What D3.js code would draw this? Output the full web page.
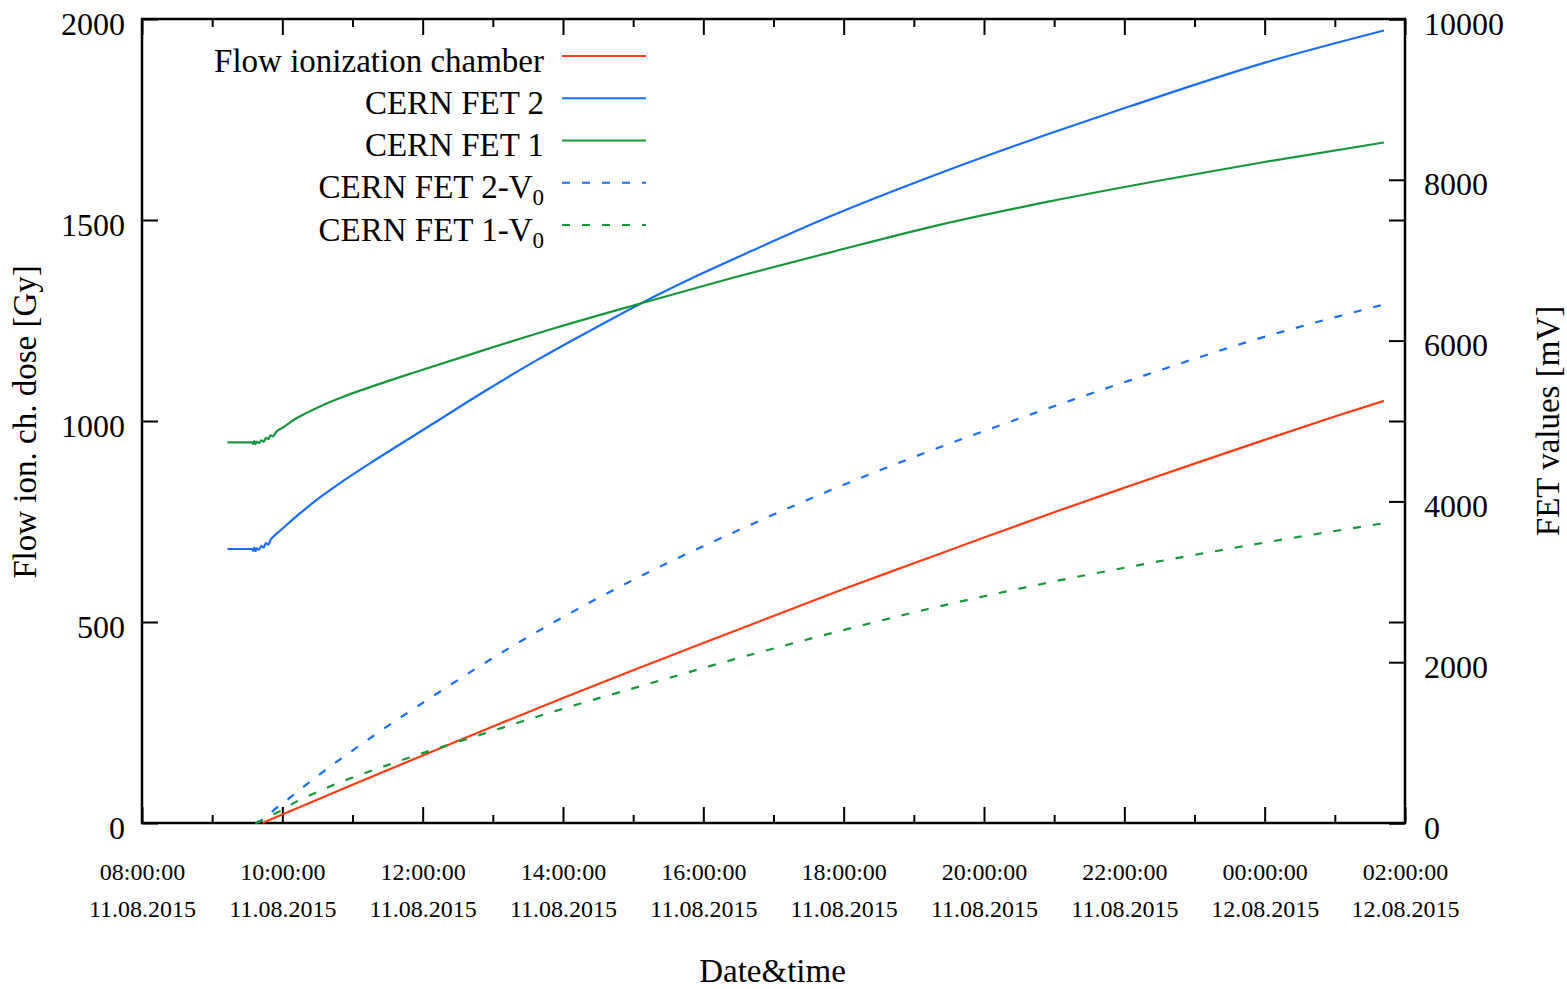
<!DOCTYPE html>
<html>
<head>
<meta charset="utf-8">
<script src="https://cdn.jsdelivr.net/npm/d3@7"></script>
<style>
  html, body { margin: 0; padding: 0; background: #fff; }
  svg { display: block; font-family: "Liberation Serif", "Times New Roman", serif; }
  svg text { font-family: "Liberation Serif", "Times New Roman", serif; }
</style>
</head>
<body>
<svg id="chart" width="1567" height="989"></svg>
<script>
// ---------------- data ----------------
const xDomain = ["11.08.2015 08:00", "12.08.2015 02:00"];
const leftTicks = [0, 500, 1000, 1500, 2000];          // Gy
const rightTicks = [0, 2000, 4000, 6000, 8000, 10000];  // mV

const seriesNames = ["Flow ionization chamber", "CERN FET 2", "CERN FET 1", "CERN FET 2-V", "CERN FET 1-V"];
const seriesSubs  = ["", "", "", "0", "0"];

// Flow ionization chamber dose [Gy] (left axis)
const flowChamber = [
  ["11.08.2015 09:43", 0], ["11.08.2015 10:00", 21], ["11.08.2015 11:00", 95],
  ["11.08.2015 12:00", 168], ["11.08.2015 13:00", 240], ["11.08.2015 14:00", 311],
  ["11.08.2015 15:00", 380], ["11.08.2015 16:00", 448], ["11.08.2015 17:00", 515],
  ["11.08.2015 18:00", 582], ["11.08.2015 19:00", 646], ["11.08.2015 20:00", 710],
  ["11.08.2015 21:00", 773], ["11.08.2015 22:00", 834], ["11.08.2015 23:00", 894],
  ["12.08.2015 00:00", 953], ["12.08.2015 01:00", 1011], ["12.08.2015 01:42", 1050]
];

// CERN FET 2 [mV] (right axis)
const fet2 = [
  ["11.08.2015 09:13", 3408], ["11.08.2015 09:34", 3408], ["11.08.2015 09:35", 3385],
  ["11.08.2015 09:36", 3425], ["11.08.2015 09:37", 3380], ["11.08.2015 09:38", 3415],
  ["11.08.2015 09:40", 3400], ["11.08.2015 09:42", 3445], ["11.08.2015 09:44", 3425],
  ["11.08.2015 09:46", 3480], ["11.08.2015 09:48", 3460], ["11.08.2015 09:50", 3525],
  ["11.08.2015 09:52", 3557], ["11.08.2015 10:00", 3660], ["11.08.2015 10:15", 3850],
  ["11.08.2015 10:35", 4080], ["11.08.2015 10:49", 4225], ["11.08.2015 11:21", 4530],
  ["11.08.2015 12:07", 4950], ["11.08.2015 12:53", 5370], ["11.08.2015 13:38", 5760],
  ["11.08.2015 14:24", 6130], ["11.08.2015 15:07", 6465], ["11.08.2015 15:56", 6815],
  ["11.08.2015 16:42", 7120], ["11.08.2015 17:46", 7530], ["11.08.2015 19:21", 8075],
  ["11.08.2015 20:55", 8570], ["11.08.2015 22:06", 8920], ["12.08.2015 00:01", 9460],
  ["12.08.2015 01:42", 9857]
];

// CERN FET 1 [mV] (right axis)
const fet1 = [
  ["11.08.2015 09:13", 4735], ["11.08.2015 09:34", 4735], ["11.08.2015 09:35", 4715],
  ["11.08.2015 09:36", 4750], ["11.08.2015 09:37", 4712], ["11.08.2015 09:38", 4745],
  ["11.08.2015 09:40", 4725], ["11.08.2015 09:42", 4760], ["11.08.2015 09:44", 4740],
  ["11.08.2015 09:46", 4790], ["11.08.2015 09:48", 4775], ["11.08.2015 09:50", 4820],
  ["11.08.2015 09:52", 4810], ["11.08.2015 09:55", 4870], ["11.08.2015 10:00", 4915],
  ["11.08.2015 10:10", 5015], ["11.08.2015 10:20", 5095], ["11.08.2015 10:35", 5200],
  ["11.08.2015 10:50", 5290], ["11.08.2015 11:24", 5465], ["11.08.2015 11:52", 5600],
  ["11.08.2015 12:53", 5885], ["11.08.2015 13:54", 6160], ["11.08.2015 15:07", 6465],
  ["11.08.2015 16:26", 6785], ["11.08.2015 17:48", 7095], ["11.08.2015 19:22", 7440],
  ["11.08.2015 20:55", 7728], ["11.08.2015 22:28", 7985], ["12.08.2015 00:01", 8225],
  ["12.08.2015 01:42", 8464]
];

// CERN FET 2 - V0 [mV] (right axis)
const fet2V0 = [
  ["11.08.2015 09:37", 0], ["11.08.2015 09:42", 35], ["11.08.2015 09:46", 70],
  ["11.08.2015 09:50", 115], ["11.08.2015 09:52", 150], ["11.08.2015 10:00", 240],
  ["11.08.2015 10:26", 540], ["11.08.2015 10:55", 850], ["11.08.2015 11:21", 1115],
  ["11.08.2015 12:06", 1551], ["11.08.2015 13:17", 2202], ["11.08.2015 14:31", 2805],
  ["11.08.2015 15:31", 3246], ["11.08.2015 16:07", 3490], ["11.08.2015 16:42", 3720],
  ["11.08.2015 17:46", 4122], ["11.08.2015 19:21", 4667], ["11.08.2015 20:05", 4901],
  ["11.08.2015 21:39", 5379], ["11.08.2015 22:06", 5512], ["12.08.2015 00:01", 6052],
  ["12.08.2015 01:42", 6449]
];

// CERN FET 1 - V0 [mV] (right axis)
const fet1V0 = [
  ["11.08.2015 09:37", 0], ["11.08.2015 09:42", 25], ["11.08.2015 09:46", 55],
  ["11.08.2015 09:50", 90], ["11.08.2015 09:55", 125], ["11.08.2015 10:00", 160],
  ["11.08.2015 10:10", 250], ["11.08.2015 10:20", 320], ["11.08.2015 10:35", 420],
  ["11.08.2015 10:50", 510], ["11.08.2015 11:24", 690], ["11.08.2015 11:52", 830],
  ["11.08.2015 12:53", 1115], ["11.08.2015 13:54", 1395], ["11.08.2015 15:07", 1705],
  ["11.08.2015 16:26", 2035], ["11.08.2015 17:48", 2355], ["11.08.2015 19:22", 2695],
  ["11.08.2015 20:55", 2990], ["11.08.2015 22:28", 3250], ["12.08.2015 00:01", 3490],
  ["12.08.2015 01:42", 3729]
];

// ---------------- drawing ----------------
const svg = d3.select("#chart");
const parse = d3.utcParse("%d.%m.%Y %H:%M");
const L = 142, R = 1405, T = 19, B = 823;
const FONT = "Liberation Serif";

const x = d3.scaleUtc().domain(xDomain.map(parse)).range([L, R]);
const yL = d3.scaleLinear().domain([0, 2000]).range([B, T]);
const yR = d3.scaleLinear().domain([0, 10000]).range([B, T]);

const colors = ["#ff3d12", "#1a6eff", "#17963a", "#1a6eff", "#17963a"];
const dashes = [null, null, null, "8,12", "8,12"];

const hourTicks = d3.utcHour.range(x.domain()[0], new Date(+x.domain()[1] + 1));
const isMajor = d => d.getUTCHours() % 2 === 0;
const intFmt = d3.format("d");

// bottom axis
const gB = svg.append("g").attr("transform", `translate(0,${B})`)
  .call(d3.axisBottom(x).tickValues(hourTicks).tickSizeInner(-16).tickSizeOuter(0).tickFormat(""));
gB.selectAll(".tick line").attr("y2", d => isMajor(d) ? -16 : -8);
const fmtTime = d3.utcFormat("%H:%M:%S"), fmtDate = d3.utcFormat("%d.%m.%Y");
gB.selectAll(".tick").filter(isMajor).each(function(d) {
  const t = d3.select(this).append("text").attr("fill", "#000")
    .attr("text-anchor", "middle").attr("font-size", 24).attr("font-family", FONT);
  t.append("tspan").attr("x", 0).attr("y", 57).text(fmtTime(d));
  t.append("tspan").attr("x", 0).attr("y", 94).text(fmtDate(d));
});

// top axis (mirror)
const gT = svg.append("g").attr("transform", `translate(0,${T})`)
  .call(d3.axisTop(x).tickValues(hourTicks).tickSizeInner(-16).tickSizeOuter(0).tickFormat(""));
gT.selectAll(".tick line").attr("y2", d => isMajor(d) ? 16 : 8);

// left axis
const gL = svg.append("g").attr("transform", `translate(${L},0)`)
  .call(d3.axisLeft(yL).tickValues(leftTicks).tickFormat(intFmt)
    .tickSizeInner(-16).tickSizeOuter(0).tickPadding(17));
gL.selectAll("text").attr("dy", 15).attr("font-size", 32);

// right axis (FET) + mirrored left ticks
const gR = svg.append("g").attr("transform", `translate(${R},0)`)
  .call(d3.axisRight(yR).tickValues(rightTicks).tickFormat(intFmt)
    .tickSizeInner(-16).tickSizeOuter(0).tickPadding(19));
gR.selectAll("text").attr("dy", 15).attr("font-size", 32);
svg.append("g").attr("transform", `translate(${R},0)`)
  .call(d3.axisRight(yL).tickValues(leftTicks).tickSizeInner(-16).tickSizeOuter(0).tickFormat(""));

svg.selectAll(".domain").remove();
svg.selectAll("g").attr("font-family", FONT);
svg.selectAll(".tick line").attr("stroke", "#000").attr("stroke-width", 2);
svg.selectAll(".tick text").attr("fill", "#000").attr("font-family", FONT);

// frame
svg.append("rect").attr("x", L).attr("y", T).attr("width", R - L).attr("height", B - T)
  .attr("fill", "none").attr("stroke", "#000").attr("stroke-width", 2.5);

// axis titles
svg.append("text").attr("transform", `translate(36,${(T + B) / 2 + 1}) rotate(-90)`)
  .attr("text-anchor", "middle").attr("font-size", 33).attr("font-family", FONT)
  .text("Flow ion. ch. dose [Gy]");
svg.append("text").attr("transform", `translate(1559,${(T + B) / 2}) rotate(-90)`)
  .attr("text-anchor", "middle").attr("font-size", 33).attr("font-family", FONT)
  .text("FET values [mV]");
svg.append("text").attr("x", (L + R) / 2 - 1).attr("y", 982)
  .attr("text-anchor", "middle").attr("font-size", 33).attr("font-family", FONT)
  .text("Date&time");

// series
const lineL = d3.line().x(d => x(parse(d[0]))).y(d => yL(d[1])).curve(d3.curveMonotoneX);
const lineR = d3.line().x(d => x(parse(d[0]))).y(d => yR(d[1])).curve(d3.curveMonotoneX);
const series = [
  { data: flowChamber, line: lineL },
  { data: fet2, line: lineR },
  { data: fet1, line: lineR },
  { data: fet2V0, line: lineR },
  { data: fet1V0, line: lineR }
];
series.forEach((s, i) => {
  svg.append("path").attr("d", s.line(s.data)).attr("fill", "none")
    .attr("stroke", colors[i]).attr("stroke-width", 2.2)
    .attr("stroke-dasharray", dashes[i]);
});

// legend
seriesNames.forEach((name, i) => {
  const ly = 56 + i * 42.25;
  const t = svg.append("text").attr("x", 544).attr("y", ly + 15.5)
    .attr("text-anchor", "end").attr("font-size", 33).attr("font-family", FONT).attr("fill", "#000");
  t.append("tspan").text(name);
  if (seriesSubs[i]) t.append("tspan").attr("dy", 7).attr("font-size", 23).text(seriesSubs[i]);
  svg.append("line").attr("x1", 562).attr("x2", 646).attr("y1", ly).attr("y2", ly)
    .attr("stroke", colors[i]).attr("stroke-width", 2.2)
    .attr("stroke-dasharray", dashes[i]);
});
</script>
</body>
</html>
